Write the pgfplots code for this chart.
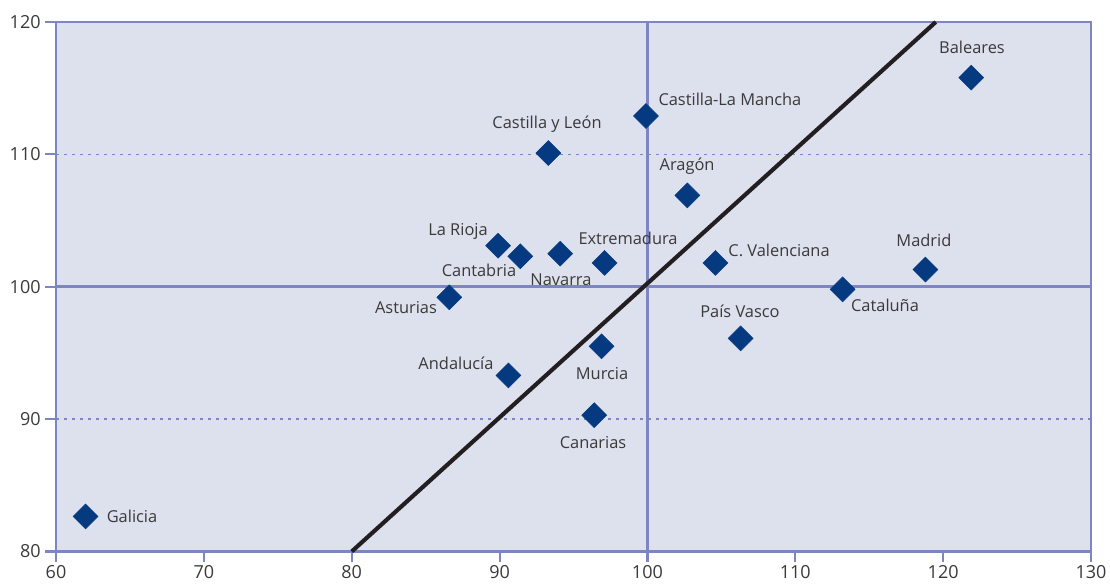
\documentclass[border=0pt]{standalone}
\usepackage{pgfplots}
\pgfplotsset{compat=1.18}
\usepackage{fontspec}
\setmainfont{Open Sans}

\definecolor{frame}{HTML}{7D86C0}
\definecolor{plotbg}{HTML}{DDE0ED}
\definecolor{mark}{HTML}{063A80}
\definecolor{txt}{HTML}{3A3A3A}

\begin{document}
\begin{tikzpicture}[font=\fontsize{12.3}{14}\selectfont, every node/.style={text=txt}]
\begin{axis}[
    name=ax,
    scale only axis,
    width=776pt, height=397pt,
    xmin=60, xmax=130, ymin=80, ymax=120,
    xtick={60,70,...,130}, ytick={80,90,...,120},
    axis line style={frame, line width=2.2pt},
    axis background/.style={fill=plotbg},
    tick align=outside, tick pos=left,
    major tick length=8pt,
    tick style={frame, line width=1.6pt},
    ymajorgrids,
    grid style={frame, line width=1.1pt, dash pattern=on 2.2pt off 3.8pt},
    ticklabel style={font=\fontsize{13.5}{15}\selectfont, text=txt},
    xticklabel style={yshift=1pt},
    /pgf/number format/assume math mode=true,
    clip=false,
]
% reference lines at 100
\draw[frame, line width=1.9pt] (axis cs:100,80) -- (axis cs:100,120);
\draw[frame, line width=1.9pt] (axis cs:60,100) -- (axis cs:130,100);

% 45 degree line
\addplot[color={rgb,255:red,35;green,31;blue,32}, line width=3.1pt] coordinates {(80,80) (119.5,120)};

% regions
\addplot[only marks, mark=square*, mark size=6.6pt,
    mark options={rotate=45, fill=mark, draw=mark}] coordinates {
    (62.0,82.65)  % Galicia
    (86.6,99.2)   % Asturias
    (90.6,93.3)   % Andalucia
    (89.9,103.1)  % La Rioja
    (91.4,102.3)  % Cantabria
    (94.1,102.5)  % Navarra
    (97.1,101.8)  % Extremadura
    (93.3,110.1)  % Castilla y Leon
    (99.9,112.9)  % Castilla-La Mancha
    (102.7,106.9) % Aragon
    (96.9,95.5)   % Murcia
    (96.4,90.3)   % Canarias
    (104.6,101.8) % C. Valenciana
    (106.3,96.1)  % Pais Vasco
    (113.2,99.8)  % Cataluna
    (118.8,101.3) % Madrid
    (121.9,115.8) % Baleares
};

\node at (axis cs:65.14,82.65) {Galicia};
\node at (axis cs:83.67,98.41) {Asturias};
\node at (axis cs:87.05,94.24) {Andalucía};
\node at (axis cs:87.19,104.17) {La Rioja};
\node at (axis cs:88.61,101.21) {Cantabria};
\node at (axis cs:94.15,100.53) {Navarra};
\node at (axis cs:98.69,103.64) {Extremadura};
\node at (axis cs:93.21,112.27) {Castilla y León};
\node at (axis cs:105.58,114.17) {Castilla-La Mancha};
\node at (axis cs:102.68,109.09) {Aragón};
\node at (axis cs:96.93,93.41) {Murcia};
\node at (axis cs:96.32,88.26) {Canarias};
\node at (axis cs:108.9,102.73) {C. Valenciana};
\node at (axis cs:106.26,98.11) {País Vasco};
\node at (axis cs:116.07,98.56) {Cataluña};
\node at (axis cs:118.7,103.48) {Madrid};
\node at (axis cs:121.95,118.11) {Baleares};
\end{axis}
\pgfresetboundingbox
\path ([xshift=-42pt,yshift=-24.75pt]ax.south west) rectangle ([xshift=14.25pt,yshift=16.5pt]ax.north east);
\end{tikzpicture}
\end{document}
